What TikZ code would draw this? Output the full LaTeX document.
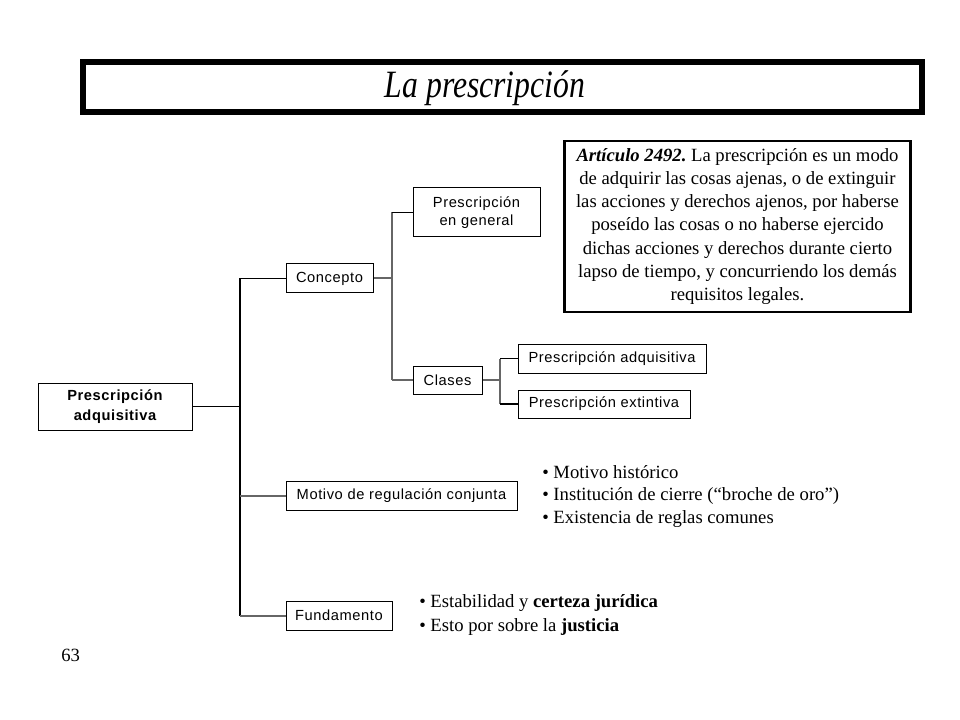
\documentclass[tikz,border=0pt]{standalone}
\usepackage{fontspec}
\setmainfont{Liberation Serif}
\setsansfont{Liberation Sans}[LetterSpace=4]
\frenchspacing
\begin{document}
\begin{tikzpicture}[x=0.75pt,y=-0.75pt,
  sbox/.style={draw=black,line width=0.75pt,font=\sffamily\fontsize{11}{13}\selectfont,align=center,inner sep=0pt,fill=white},
  blk/.style={draw=black,line width=0.8pt},
  gry/.style={draw=black!60,line width=1.5pt},
  serif/.style={font=\fontsize{14}{17.4}\selectfont,inner sep=0pt}]
\useasboundingbox (0,0) rectangle (960,720);
\fill[white] (0,0) rectangle (960,720);
% title
\node[draw=black,line width=4.5pt,inner sep=0pt,minimum width=629.25pt,minimum height=37.5pt] (title) at (502.5,87.5) {};
\node[inner sep=0pt,font=\itshape\fontsize{29}{32}\selectfont] (ttext) at (485,88) {\scalebox{0.82}[1]{La prescripción}};
% article box
\node[draw=black,line width=1.6pt,minimum width=259.5pt,minimum height=128.25pt,inner sep=0pt,align=center,
  font=\fontsize{14}{17.4}\selectfont] (art) at (737.5,226.5)
  {\textbf{\textit{Artículo 2492.}}\ La prescripción es un modo\\
   de adquirir las cosas ajenas, o de extinguir\\
   las acciones y derechos ajenos, por haberse\\
   poseído las cosas o no haberse ejercido\\
   dichas acciones y derechos durante cierto\\
   lapso de tiempo, y concurriendo los demás\\
   requisitos legales.};
% boxes
\node[sbox,font=\sffamily\bfseries\fontsize{11}{15}\selectfont,minimum width=115.5pt,minimum height=35.25pt] (root) at (115,406.5) {Prescripción\\adquisitiva};
\node[sbox,minimum width=65.25pt,minimum height=21.75pt] (conc) at (329.5,278.5) {Concepto};
\node[sbox,font=\sffamily\fontsize{11}{14}\selectfont,minimum width=95.25pt,minimum height=36.75pt] (gen) at (476.5,212.5) {Prescripción\\en general};
\node[sbox,minimum width=51.75pt,minimum height=21pt] (clas) at (447.5,380) {Clases};
\node[sbox,minimum width=141pt,minimum height=21.75pt] (adq) at (612,358.5) {Prescripción adquisitiva};
\node[sbox,minimum width=129pt,minimum height=21pt] (ext) at (604,404) {Prescripción extintiva};
\node[sbox,minimum width=173.25pt,minimum height=21.75pt] (mot) at (401.5,495.5) {Motivo de regulación conjunta};
\node[sbox,minimum width=79.5pt,minimum height=21.75pt] (fund) at (339,615.5) {Fundamento};
% coordinates
\coordinate (v1) at (240,406.5);
\coordinate (v1t) at (240,278.5);
\coordinate (v1b) at (240,615.5);
\coordinate (v1m) at (240,495.5);
\coordinate (v2) at (392,278.5);
\coordinate (v2t) at (392,212.5);
\coordinate (v2b) at (392,380);
\coordinate (v3) at (500,380);
\coordinate (v3t) at (500,358.5);
\coordinate (v3b) at (500,404);
% connectors
\draw[blk] (root.east) -- (v1);
\draw[blk] (v1t) -- (v1b);
\draw[blk] (v1t) -- (conc.west);
\draw[gry] (v1m) -- (mot.west);
\draw[gry] (v1b) -- (fund.west);
\draw[gry] (conc.east) -- (v2);
\draw[gry] (v2t) -- (v2b);
\draw[blk] (v2t) -- (gen.west);
\draw[gry] (v2b) -- (clas.west);
\draw[gry] (clas.east) -- (v3);
\draw[gry] (v3t) -- (v3b);
\draw[blk] (v3t) -- (adq.west);
\draw[blk] (v3b) -- (ext.west);
% bullets
\node[serif,anchor=west] (m1) at (542,472) {\textbullet\ Motivo histórico};
\node[serif,anchor=west] (m2) at (542,495.5) {\textbullet\ Institución de cierre (“broche de oro”)};
\node[serif,anchor=west] (m3) at (542,519) {\textbullet\ Existencia de reglas comunes};
\node[serif,anchor=west] (f1) at (419,603.5) {\textbullet\ Estabilidad y \textbf{certeza jurídica}};
\node[serif,anchor=west] (f2) at (419,627) {\textbullet\ Esto por sobre la \textbf{justicia}};
\node[serif,anchor=west] (pg) at (61,655.5) {63};
\end{tikzpicture}
\end{document}
